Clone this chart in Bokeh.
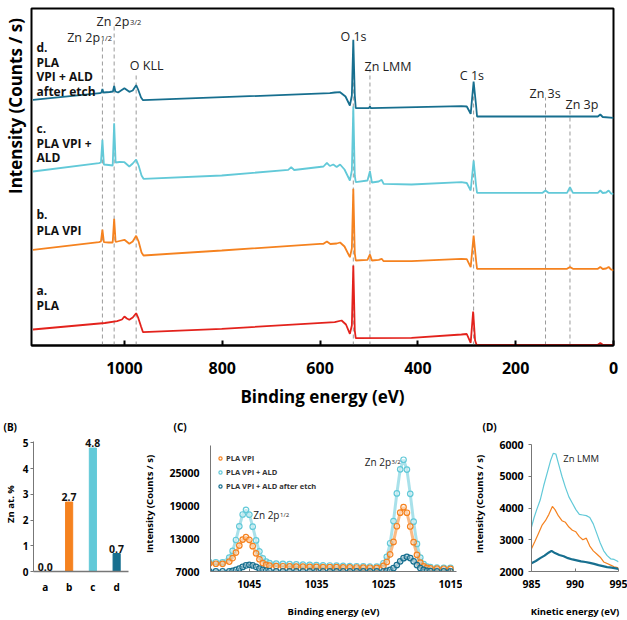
import math
from bokeh.plotting import figure
from bokeh.layouts import column, row
from bokeh.models import (ColumnDataSource, Label, LabelSet, Range1d, FactorRange, FixedTicker,
                          Legend, LegendItem)
from bokeh.core.properties import value
from bokeh.embed import file_html
from bokeh.resources import INLINE

FONT = "Open Sans"
RED = "#e3221c"
ORANGE = "#f5821f"
CYAN = "#62c9d8"
TEAL = "#176f8f"
GRAYAX = "#777777"
TXT = "#222222"

# ---------------- Panel A data (survey spectra, offset, arbitrary units) ----------------
be_a = [1187, 1040, 1015, 1005, 1000, 995, 990, 983, 976, 972, 966, 962, 801, 570, 556, 547,
        539, 535, 532, 529, 527, 413, 311, 300, 292, 287, 283, 280, 32, 27, 22, 0]
int_a = [16, 22.5, 24.3, 26, 29, 27, 25.7, 28, 32.3, 28, 19, 13.3, 16.7, 23.3, 25, 21,
         11.7, 20, 80, 15, 7.3, 7.7, 11, 11.5, 2.7, 34, 5, 0.7, 0.7, 2.5, 0.7, 0.5]

be_b = [1187, 1052, 1048, 1045, 1042, 1032, 1024, 1021, 1018, 1010, 1000, 990, 983, 976, 971,
        965, 961, 801, 600, 593, 586, 579, 566, 559, 550, 539, 535, 532, 529, 527, 503, 498,
        494, 480, 474, 470, 413, 311, 300, 292, 286, 281, 279, 95, 89, 83, 32, 27, 22, 15,
        10, 5, 0]
int_b = [95.7, 103.3, 104, 116, 103.3, 103, 103, 126.7, 103.5, 104.5, 105.7, 101.7, 104, 109.7,
         104, 93, 90, 95, 101.7, 101.7, 104, 101.5, 102, 103, 99, 88.3, 97, 156.7, 92, 85,
         85.7, 91, 85, 85.7, 86.7, 84.3, 84.3, 86.7, 86.3, 78.3, 110, 85, 76.7, 76.7, 78.5,
         76.7, 76.7, 78.5, 76.5, 77, 78.5, 76, 75]

be_c = [1187, 1052, 1048, 1045, 1042, 1032, 1024, 1021, 1018, 1010, 1000, 990, 983, 976, 971,
        965, 961, 801, 665, 659, 653, 593, 586, 580, 573, 566, 559, 550, 539, 535, 532, 529,
        527, 503, 498, 494, 480, 474, 470, 413, 311, 300, 292, 286, 281, 279, 145, 139, 133,
        95, 89, 83, 32, 27, 22, 15, 10, 5, 0]
int_c = [174, 182.3, 183, 205.7, 181, 180.5, 180, 222.3, 183, 183.5, 183.3, 179, 182, 186, 180,
         170, 166.7, 170, 175.7, 178.3, 175.5, 179, 182.7, 179.5, 181, 178.5, 181, 176, 165,
         175, 239, 170, 163.3, 165, 174.3, 163, 164, 165.7, 161.7, 161, 163.3, 162.5, 155,
         185, 160, 152.7, 152.7, 155, 152.7, 152.7, 158.3, 152.7, 152.7, 155, 152.5, 153,
         155, 152, 151.7]

be_d = [1187, 1050, 1047, 1045, 1043, 1030, 1023.5, 1021, 1018.5, 1013, 1000, 990, 983, 976,
        972, 966, 962, 580, 570, 559, 548, 539, 535, 532, 529, 527, 500, 498, 496, 311, 300,
        292, 286, 281, 279, 32, 27, 22, 0]
int_d = [245.7, 252.3, 253, 256.5, 253, 253.5, 254, 259.5, 254, 253, 257.3, 253.7, 255, 260.3,
         256, 248, 245.3, 252.3, 253, 253.3, 249, 240, 250, 305.7, 250, 237.3, 237.5, 239,
         237.3, 239.3, 239, 231.7, 264, 240, 229, 229, 231, 228.5, 227.7]

peak_names = ["Zn 2p1/2", "Zn 2p3/2", "O KLL", "O 1s", "Zn LMM", "C 1s", "Zn 3s", "Zn 3p"]
peak_be = [1045, 1021, 976, 532, 498, 286, 139, 89]

# ---------------- Panel B data ----------------
samples = ["a", "b", "c", "d"]
zn_at = [0.0, 2.7, 4.8, 0.7]

# ---------------- Panel C data (Zn 2p high resolution) ----------------
c_be = [1051, 1050, 1049, 1048, 1047.5, 1047, 1046.5, 1046, 1045.5, 1045, 1044.5, 1044,
        1043.5, 1043, 1042.5, 1042, 1041, 1040, 1039, 1038, 1037, 1036, 1035, 1034, 1033,
        1032, 1031, 1030, 1029, 1028, 1027, 1026, 1025, 1024.5, 1024, 1023.5, 1023, 1022.5,
        1022, 1021.5, 1021, 1020.5, 1020, 1019.5, 1019, 1018.5, 1018, 1017, 1016, 1015]
c_vpi = [8450, 8420, 8400, 8820, 9440, 10470, 11750, 12860, 13300, 12820, 11650, 10330, 9250,
         8550, 8200, 8080, 8000, 7960, 7930, 7900, 7880, 7860, 7840, 7820, 7800, 7790, 7770,
         7750, 7730, 7710, 7690, 7680, 8050, 8740, 10140, 12430, 15300, 17800, 18800, 17780,
         15260, 12380, 10060, 8640, 7950, 7650, 7580, 7540, 7500, 7470]
c_ald = [8720, 8700, 8680, 9560, 10780, 12780, 15280, 17460, 18320, 17420, 15220, 12700,
         10680, 9420, 8800, 8550, 8450, 8400, 8350, 8300, 8260, 8220, 8180, 8140, 8100, 8060,
         8020, 7990, 7960, 7930, 7900, 7880, 8510, 9700, 12180, 16250, 21320, 25740, 27500,
         25700, 21250, 16150, 12060, 9560, 8350, 7900, 7800, 7720, 7680, 7650]
c_etch = [7050, 7040, 7020, 7030, 7130, 7280, 7530, 7840, 8110, 8230, 8120, 7850, 7540, 7290,
          7140, 7060, 7040, 7030, 7030, 7020, 7030, 7030, 7020, 7020, 7030, 7030, 7020, 7030,
          7030, 7020, 7030, 7030, 7030, 7120, 7280, 7620, 8170, 8860, 9450, 9700, 9460, 8870,
          8180, 7630, 7290, 7130, 7060, 7040, 7040, 7030]

# ---------------- Panel D data (Zn LMM) ----------------
d_ke_ald = [985.0, 985.3, 985.6, 986.0, 986.4, 986.8, 987.2, 987.5, 987.8, 988.1, 988.5,
            988.9, 989.3, 989.7, 990.1, 990.5, 990.9, 991.3, 991.7, 992.1, 992.5, 992.9,
            993.3, 993.7, 994.1, 994.5, 994.9, 995.0]
d_ald = [3400, 3700, 3950, 4250, 4700, 5100, 5500, 5720, 5700, 5400, 5000, 4650, 4350, 4150,
         3950, 3800, 3780, 3760, 3700, 3500, 3200, 2900, 2650, 2500, 2400, 2380, 2320, 2300]
d_ke_vpi = [985.0, 985.4, 985.8, 986.2, 986.6, 987.0, 987.4, 987.7, 988.1, 988.5, 988.9,
            989.3, 989.7, 990.1, 990.5, 990.9, 991.3, 991.7, 992.1, 992.5, 992.9, 993.3,
            993.7, 994.1, 994.5, 994.9, 995.0]
d_vpi = [2720, 2950, 3200, 3450, 3600, 3800, 4050, 3950, 3750, 3600, 3550, 3400, 3300, 3250,
         3100, 3000, 3050, 2800, 2650, 2550, 2450, 2300, 2250, 2200, 2150, 2120, 2100]
d_ke_etch = [985.0, 985.5, 986.0, 986.5, 987.0, 987.3, 987.7, 988.2, 988.7, 989.2, 989.7,
             990.2, 990.7, 991.2, 991.7, 992.2, 992.7, 993.2, 993.7, 994.2, 994.7, 995.0]
d_etch = [2260, 2330, 2420, 2500, 2600, 2650, 2580, 2520, 2480, 2420, 2380, 2350, 2320, 2300,
          2270, 2240, 2200, 2170, 2140, 2120, 2100, 2080]


def lab(p, text, x, y, size, bold=False, color=TXT, align="left", angle=0.0,
        baseline="alphabetic"):
    p.add_layout(Label(x=x, y=y, x_units="screen", y_units="screen", text=text,
                       text_font=FONT, text_font_size=f"{size}px",
                       text_font_style="bold" if bold else "normal",
                       text_color=color, text_align=align, text_baseline=baseline,
                       angle=angle))


def style_axis(ax, lab_size, title_size, line_color="black"):
    ax.major_label_text_font = FONT
    ax.major_label_text_font_style = "bold"
    ax.major_label_text_font_size = f"{lab_size}px"
    ax.major_label_text_color = "black"
    ax.axis_label_text_font = FONT
    ax.axis_label_text_font_style = "bold"
    ax.axis_label_text_font_size = f"{title_size}px"
    ax.axis_label_text_color = "black"
    ax.axis_line_color = line_color
    ax.major_tick_line_color = line_color
    ax.minor_tick_line_color = None


def blank(width, height):
    p = figure(width=width, height=height, min_border=0, x_range=Range1d(0, 1),
               y_range=Range1d(0, 1), output_backend="svg", toolbar_location=None)
    p.axis.visible = False
    p.grid.visible = False
    p.outline_line_color = None
    return p


ROT = math.pi / 2
TOP_H = 416

# ======================= Panel A =======================
pAL = blank(30, TOP_H)
lab(pAL, "(A)", 3, TOP_H - 11, 10, True, "black", "left", 0.0, "middle")
lab(pAL, "Intensity (Counts / s)", 15, TOP_H - 176.5, 17, True, "black", "center", ROT,
    "middle")

FL, FB = 31, 345  # frame left / bottom in page px (for annotation placement)
pA = figure(frame_width=582, frame_height=337, min_border_left=1, min_border_right=14,
            min_border_top=8, min_border_bottom=TOP_H - 345, x_range=Range1d(1190, 0),
            y_range=Range1d(0, 337), output_backend="svg", toolbar_location=None)
pA.grid.visible = False
pA.outline_line_color = "black"
pA.outline_line_width = 2
pA.outline_line_alpha = 1
pA.yaxis.visible = False

style_axis(pA.xaxis[0], 16, 17)
pA.xaxis.ticker = FixedTicker(ticks=[0, 200, 400, 600, 800, 1000])
pA.xaxis.major_tick_in = 5
pA.xaxis.major_tick_out = 0
pA.xaxis.major_tick_line_width = 2
pA.xaxis.axis_line_width = 2
pA.xaxis.major_label_standoff = 16
pA.xaxis.axis_label = "Binding energy (eV)"
pA.xaxis.axis_label_standoff = 8

line_tops = [307, 322, 270, 306, 277, 258, 248, 238]
pA.segment(x0=peak_be, y0=[0] * len(peak_be), x1=peak_be, y1=line_tops,
           line_color="#9a9a9a", line_width=1, line_dash="4 3")

pA.line(be_a, int_a, line_color=RED, line_width=1.8)
pA.line(be_b, int_b, line_color=ORANGE, line_width=1.8)
pA.line(be_c, int_c, line_color=CYAN, line_width=1.8)
pA.line(be_d, int_d, line_color=TEAL, line_width=1.8)


def labA(text, px, py, size, bold=False, color=TXT):
    lab(pA, text, px - FL, FB - py, size, bold, color)


labA("Zn 2p", 66.7, 36.7, 12.5)
labA("1/2", 100.2, 37, 7.5)
labA("Zn 2p", 96, 20.5, 12.5)
labA("3/2", 129.5, 21, 7.5)
labA("O KLL", 129.3, 65, 12.5)
labA("O 1s", 340, 36, 12.5)
labA("Zn LMM", 364, 66, 12.5)
labA("C 1s", 459.3, 75, 12.5)
labA("Zn 3s", 529, 93.3, 12.5)
labA("Zn 3p", 565, 104, 12.5)
for t, yy in [("d.", 46.7), ("PLA", 61.7), ("VPI + ALD", 76), ("after etch", 91),
              ("c.", 128.3), ("PLA VPI +", 142.7), ("ALD", 157.3),
              ("b.", 214), ("PLA VPI", 230), ("a.", 290), ("PLA", 305)]:
    labA(t, 36, yy, 12, True, "#111111")

# ======================= strip with panel letters =======================
STRIP_H = 20
pS = blank(627, STRIP_H)
lab(pS, "(B)", 3, 10, 10, True, "black", "left", 0.0, "middle")
lab(pS, "(C)", 173, 10, 10, True, "black", "left", 0.0, "middle")
lab(pS, "(D)", 482, 10, 10, True, "black", "left", 0.0, "middle")

# Row frames share top/bottom borders: all span page y 436..571 (135 px)
FH = 135

# ======================= Panel B =======================
pB = figure(frame_width=95, frame_height=FH, min_border_left=33, min_border_right=12,
            min_border_top=0, min_border_bottom=49, x_range=FactorRange(factors=samples),
            y_range=Range1d(0, 5.25), output_backend="svg", toolbar_location=None)
pB.grid.visible = False
pB.outline_line_color = None
srcB = ColumnDataSource(dict(s=samples, v=zn_at, c=[RED, ORANGE, CYAN, TEAL],
                             t=[f"{v:.1f}" for v in zn_at]))
pB.vbar(x="s", top="v", width=0.3, color="c", source=srcB)
pB.add_layout(LabelSet(x="s", y="v", text="t", source=srcB, text_align="center",
                       text_baseline="bottom", y_offset=1, text_font=value(FONT),
                       text_font_style="bold", text_font_size="10.5px",
                       text_color="#111111"))
style_axis(pB.yaxis[0], 10, 9.5, GRAYAX)
pB.yaxis.ticker = FixedTicker(ticks=[0, 1, 2, 3, 4, 5])
pB.yaxis.bounds = (0, 5.06)
pB.yaxis.major_tick_out = 3
pB.yaxis.major_tick_in = 0
pB.yaxis.major_label_standoff = 2
pB.yaxis.axis_label = "Zn at. %"
pB.yaxis.axis_label_standoff = 3
style_axis(pB.xaxis[0], 10, 9.5, GRAYAX)
pB.xaxis.major_tick_out = 0
pB.xaxis.major_tick_in = 0
pB.xaxis.major_label_standoff = 8
pB.xaxis.axis_line_width = 1.5

# ======================= Panel C =======================
pC = figure(frame_width=246, frame_height=FH, min_border_left=69, min_border_right=6,
            min_border_top=0, min_border_bottom=49, x_range=Range1d(1050.8, 1014.1),
            y_range=Range1d(7000, 31770), output_backend="svg", toolbar_location=None)
pC.grid.visible = False
pC.outline_line_color = None
style_axis(pC.yaxis[0], 10.5, 9.5, GRAYAX)
pC.yaxis.ticker = FixedTicker(ticks=[7000, 13000, 19000, 25000])
pC.yaxis.bounds = (7000, 30100)
pC.yaxis.major_tick_out = 0
pC.yaxis.major_tick_in = 0
pC.yaxis.major_label_standoff = 11
pC.yaxis.axis_label = "Intensity (Counts / s)"
pC.yaxis.axis_label_standoff = 10
style_axis(pC.xaxis[0], 10.5, 9.5, GRAYAX)
pC.xaxis.ticker = FixedTicker(ticks=[1045, 1035, 1025, 1015])
pC.xaxis.major_tick_out = 0
pC.xaxis.major_tick_in = 3
pC.xaxis.major_label_standoff = 8
pC.xaxis.axis_label = "Binding energy (eV)"
pC.xaxis.axis_label_standoff = 14

rs = []
for ys, col in [(c_ald, CYAN), (c_vpi, ORANGE), (c_etch, TEAL)]:
    pC.line(c_be, ys, line_color=col, line_width=3, line_alpha=0.55)
    r = pC.scatter(c_be, ys, marker="circle", size=5.5, line_color=col, line_width=1.2,
                   fill_color="white", fill_alpha=0.3)
    rs.append(r)
legC = Legend(items=[LegendItem(label="PLA VPI", renderers=[rs[1]]),
                     LegendItem(label="PLA VPI + ALD", renderers=[rs[0]]),
                     LegendItem(label="PLA VPI + ALD after etch", renderers=[rs[2]])],
              location=(6, 79), padding=0, margin=0, spacing=2, glyph_width=8,
              glyph_height=12, label_height=12, label_standoff=2,
              label_text_font=FONT, label_text_font_style="bold",
              label_text_font_size="7.5px", label_text_color="#333333",
              background_fill_alpha=0, border_line_color=None)
pC.add_layout(legC)
lab(pC, "Zn 2p", 154.3, 109.3, 10)
lab(pC, "3/2", 181, 109.3, 6)
lab(pC, "Zn 2p", 42.7, 57, 10)
lab(pC, "1/2", 69.5, 57, 6)

# ======================= Panel D =======================
pD = figure(frame_width=87, frame_height=FH, min_border_left=69, min_border_right=10,
            min_border_top=0, min_border_bottom=49, x_range=Range1d(985, 995),
            y_range=Range1d(2000, 6252), output_backend="svg", toolbar_location=None)
pD.grid.visible = False
pD.outline_line_color = None
style_axis(pD.yaxis[0], 10.5, 9.5, GRAYAX)
pD.yaxis.ticker = FixedTicker(ticks=[2000, 3000, 4000, 5000, 6000])
pD.yaxis.bounds = (2000, 6000)
pD.yaxis.major_tick_out = 3
pD.yaxis.major_tick_in = 0
pD.yaxis.major_label_standoff = 5
pD.yaxis.axis_label = "Intensity (Counts / s)"
pD.yaxis.axis_label_standoff = 10
style_axis(pD.xaxis[0], 10.5, 9.5, GRAYAX)
pD.xaxis.ticker = FixedTicker(ticks=[985, 990, 995])
pD.xaxis.major_tick_out = 0
pD.xaxis.major_tick_in = 3
pD.xaxis.major_label_standoff = 8
pD.xaxis.axis_label = "Kinetic energy (eV)"
pD.xaxis.axis_label_standoff = 14
pD.line(d_ke_ald, d_ald, line_color=CYAN, line_width=1.2)
pD.line(d_ke_vpi, d_vpi, line_color=ORANGE, line_width=1.2)
pD.line(d_ke_etch, d_etch, line_color=TEAL, line_width=2.2)
lab(pD, "Zn LMM", 31.7, 112.7, 9.5)

layout = column(row(pAL, pA, spacing=0), pS, row(pB, pC, pD, spacing=0), spacing=0)
open("out.html", "w").write(file_html(layout, INLINE))
